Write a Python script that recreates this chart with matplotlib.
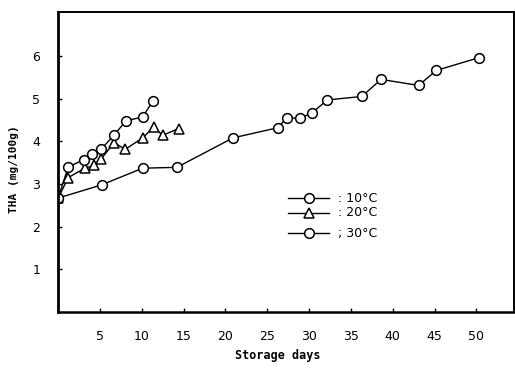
import matplotlib
matplotlib.use("Agg")
import matplotlib.pyplot as plt
from matplotlib.lines import Line2D

# 10 C (circles, short upper curve)
days_10 = [0, 1.2, 3.1, 4.1, 5.1, 6.7, 8.1, 10.1, 11.3]
tha_10 = [2.67, 3.40, 3.57, 3.71, 3.81, 4.15, 4.48, 4.57, 4.94]

# 20 C (triangles)
days_20 = [0, 1.2, 3.2, 4.3, 5.1, 6.7, 8.0, 10.1, 11.4, 12.5, 14.4]
tha_20 = [2.67, 3.15, 3.37, 3.44, 3.58, 3.97, 3.81, 4.08, 4.33, 4.14, 4.30]

# 30 C (circles, long curve)
days_30 = [0, 5.2, 10.1, 14.2, 20.9, 26.3, 27.3, 28.9, 30.3, 32.2, 36.3, 38.6, 43.1, 45.2, 50.3]
tha_30 = [2.67, 2.98, 3.37, 3.39, 4.08, 4.32, 4.55, 4.54, 4.66, 4.97, 5.05, 5.45, 5.31, 5.66, 5.96]

xticks = [5, 10, 15, 20, 25, 30, 35, 40, 45, 50]
yticks = [1, 2, 3, 4, 5, 6]
legend_labels = [": 10°C", ": 20°C", "; 30°C"]

fig = plt.figure(figsize=(5.15, 3.7), dpi=100)
ax = fig.add_axes([58.2/515, 1-312/370, (514-58.2)/515, 300/370])

style = dict(color='k', lw=1.0, mfc='white', mec='k', mew=1.1)
ax.plot(days_30, tha_30, marker='o', ms=7, **style)
ax.plot(days_20, tha_20, marker='^', ms=7, **style)
ax.plot(days_10, tha_10, marker='o', ms=7, **style)

ax.set_xlim(0, 54.5)
ax.set_ylim(0, 7.03)
ax.set_xticks(xticks)
ax.set_yticks(yticks)
ax.tick_params(direction='in', length=3, width=1, labelsize=9)
ax.tick_params(axis='x', pad=13)
ax.tick_params(axis='y', pad=13)
for s in ax.spines.values():
    s.set_linewidth(1.4)
ax.spines['left'].set_linewidth(2)
ax.spines['bottom'].set_linewidth(1.8)

fig.text(278/515, 1-356/370, "Storage days", ha='center', va='center',
         family='DejaVu Sans Mono', fontweight='bold', fontsize=8.5)
fig.text(14/515, 1-169/370, "THA (mg/100g)", ha='center', va='center', rotation=90,
         family='DejaVu Sans Mono', fontweight='bold', fontsize=8)

# hand-drawn style legend
leg_y = [198, 213, 233]
leg_m = ['o', '^', 'o']
for yy, m, lab in zip(leg_y, leg_m, legend_labels):
    yf = 1 - yy/370
    fig.add_artist(Line2D([288/515, 329/515], [yf, yf], marker=None, color='k', lw=1.0))
    fig.add_artist(Line2D([309/515], [yf], marker=m, ms=7, mfc='white', mec='k', mew=1.1, color='k'))
    fig.text(338/515, yf, lab, ha='left', va='center', fontsize=9)

fig.savefig("out.png", dpi=100)
